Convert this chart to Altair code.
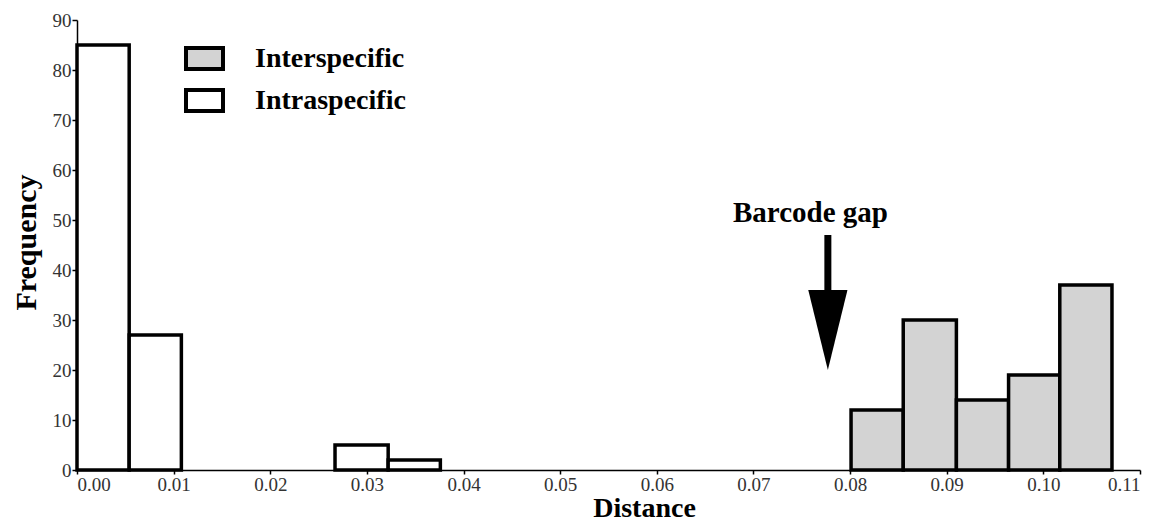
import altair as alt
import pandas as pd

# Histogram bins (Distance) and frequencies
inter_start = [0.0801, 0.0855, 0.0910, 0.0964, 0.1017]
inter_end = [0.0855, 0.0910, 0.0964, 0.1017, 0.1071]
inter_count = [12, 30, 14, 19, 37]

intra_start = [0.0, 0.0054, 0.0267, 0.0322]
intra_end = [0.0054, 0.0108, 0.0322, 0.0376]
intra_count = [85, 27, 5, 2]

groups = ["Interspecific", "Intraspecific"]
group_colors = ["#d3d3d3", "#ffffff"]

x_ticks = [0.00, 0.01, 0.02, 0.03, 0.04, 0.05, 0.06, 0.07, 0.08, 0.09, 0.10, 0.11]
y_ticks = [0, 10, 20, 30, 40, 50, 60, 70, 80, 90]

# Annotation "Barcode gap"
gap_label = ["Barcode gap"]
gap_label_x = [0.0759]
gap_label_y = [49.6]
arrow_x = [0.0777]
arrow_shaft_top = [47]
arrow_shaft_bottom = [34]
arrow_head_mid = [28]

FONT = "Liberation Serif"

bars_df = pd.DataFrame({
    "start": inter_start + intra_start,
    "end": inter_end + intra_end,
    "count": inter_count + intra_count,
    "type": [groups[0]] * len(inter_start) + [groups[1]] * len(intra_start),
})

xscale = alt.Scale(domain=[0, 0.11], nice=False)
yscale = alt.Scale(domain=[0, 90], nice=False)

bars = alt.Chart(bars_df).mark_bar(stroke="black", strokeWidth=3.5).encode(
    x=alt.X("start:Q", scale=xscale,
            axis=alt.Axis(values=x_ticks, format=".2f", title="Distance",
                          titleFont=FONT, titleFontSize=28, titleFontWeight="bold",
                          titleColor="black", titleX=567, titleY=24,
                          titleBaseline="top", titleAnchor="start", titleAlign="center")),
    x2="end:Q",
    y=alt.Y("count:Q", scale=yscale,
            axis=alt.Axis(values=y_ticks, title="Frequency",
                          titleFont=FONT, titleFontSize=30, titleFontWeight="bold",
                          titleColor="black", titleX=-51, titleY=222,
                          titleBaseline="middle", titleAngle=270, titleAlign="center")),
    y2=alt.datum(0),
    fill=alt.Fill("type:N", scale=alt.Scale(domain=groups, range=group_colors),
                  legend=alt.Legend(title=None, orient="none", legendX=107, legendY=18,
                                    symbolType="M -1 -0.57 L 1 -0.57 L 1 0.57 L -1 0.57 Z",
                                    symbolSize=1369, symbolStrokeColor="black",
                                    symbolStrokeWidth=4, symbolOpacity=1,
                                    labelFont=FONT, labelFontSize=28, labelFontWeight="bold",
                                    labelColor="black", labelOffset=30, rowPadding=2,
                                    padding=0)),
)

ann_df = pd.DataFrame({
    "label": gap_label,
    "lx": gap_label_x,
    "ly": gap_label_y,
    "ax": arrow_x,
    "top": arrow_shaft_top,
    "bottom": arrow_shaft_bottom,
    "mid": arrow_head_mid,
})

shaft = alt.Chart(ann_df).mark_rule(color="black", strokeWidth=7).encode(
    x=alt.X("ax:Q", scale=xscale),
    y=alt.Y("top:Q", scale=yscale),
    y2="bottom:Q",
)

head = alt.Chart(ann_df).mark_point(
    shape="M -0.49 -1 L 0.49 -1 L 0 1 Z", size=6400, filled=True,
    color="black", opacity=1, strokeWidth=0,
).encode(
    x=alt.X("ax:Q", scale=xscale),
    y=alt.Y("mid:Q", scale=yscale),
)

text = alt.Chart(ann_df).mark_text(
    font=FONT, fontSize=29, fontWeight="bold", color="black",
    align="center", baseline="alphabetic",
).encode(
    x=alt.X("lx:Q", scale=xscale),
    y=alt.Y("ly:Q", scale=yscale),
    text="label:N",
)

chart = alt.layer(bars, shaft, head, text).properties(
    width=1063, height=450,
    autosize=alt.AutoSizeParams(type="none"),
    padding={"left": 69, "top": 12, "right": 11, "bottom": 60},
    background="white",
).configure_view(stroke=None).configure_axis(
    grid=False,
    domainColor="black", domainWidth=1.5,
    tickColor="black", tickWidth=1.5,
    labelFont=FONT, labelFontSize=19, labelColor="#333333",
).configure_axisX(
    tickSize=4, labelPadding=1,
).configure_axisY(
    tickSize=5, labelPadding=1,
)

chart.save("out.html", embed_options={"renderer": "svg", "actions": False})
